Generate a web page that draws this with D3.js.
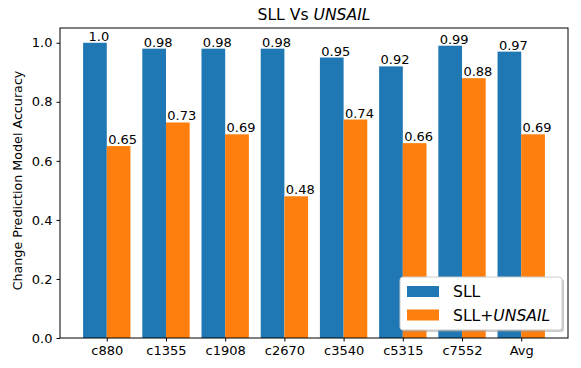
<!DOCTYPE html>
<html>
<head>
<meta charset="utf-8">
<script src="https://cdn.jsdelivr.net/npm/d3@7"></script>
<style>
  body { margin: 0; background: #fff; }
  svg { font-family: "DejaVu Sans", sans-serif; }
</style>
</head>
<body>
<div id="chart"></div>
<script>
const width = 581;
const height = 368;
const margin = ({top: 28, right: 13, bottom: 30, left: 60});

// data
const circuits = ["c880", "c1355", "c1908", "c2670", "c3540", "c5315", "c7552", "Avg"];
const sll = [1.0, 0.98, 0.98, 0.98, 0.95, 0.92, 0.99, 0.97];
const sllUnsail = [0.65, 0.73, 0.69, 0.48, 0.74, 0.66, 0.88, 0.69];
const sllLabels = ["1.0", "0.98", "0.98", "0.98", "0.95", "0.92", "0.99", "0.97"];
const unsailLabels = ["0.65", "0.73", "0.69", "0.48", "0.74", "0.66", "0.88", "0.69"];
const yTicks = [0, 0.2, 0.4, 0.6, 0.8, 1.0];

const blue = "#1f77b4";
const orange = "#ff7f0e";
const barW = 0.4;

let svg = d3.select("#chart")
    .append("svg")
    .attr("width", width)
    .attr("height", height);

let xScale = d3.scaleLinear()
    .domain([-0.79, circuits.length - 1 + 0.79])
    .range([margin.left, width - margin.right]);

let yScale = d3.scaleLinear()
    .domain([0, 1.05])
    .range([height - margin.bottom, margin.top]);

// bars
svg.selectAll(".sll")
    .data(sll)
    .enter()
    .append("rect")
    .attr("class", "sll")
    .attr("x", (d, i) => xScale(i - barW))
    .attr("y", d => yScale(d))
    .attr("width", xScale(barW) - xScale(0))
    .attr("height", d => yScale(0) - yScale(d))
    .attr("fill", blue);

svg.selectAll(".unsail")
    .data(sllUnsail)
    .enter()
    .append("rect")
    .attr("class", "unsail")
    .attr("x", (d, i) => xScale(i))
    .attr("y", d => yScale(d))
    .attr("width", xScale(barW) - xScale(0))
    .attr("height", d => yScale(0) - yScale(d))
    .attr("fill", orange);

// value labels
svg.selectAll(".sllLabel")
    .data(sll)
    .enter()
    .append("text")
    .attr("x", (d, i) => xScale(i - barW / 2) + 4)
    .attr("y", d => yScale(d) - 2)
    .attr("text-anchor", "middle")
    .attr("font-size", 13)
    .text((d, i) => sllLabels[i]);

svg.selectAll(".unsailLabel")
    .data(sllUnsail)
    .enter()
    .append("text")
    .attr("x", (d, i) => xScale(i + barW / 2) + 4)
    .attr("y", d => yScale(d) - 2)
    .attr("text-anchor", "middle")
    .attr("font-size", 13)
    .text((d, i) => unsailLabels[i]);

// axes
let xAxis = d3.axisBottom(xScale)
    .tickValues(d3.range(circuits.length))
    .tickFormat(i => circuits[i])
    .tickSize(3.5)
    .tickPadding(4);

let yAxis = d3.axisLeft(yScale)
    .tickValues(yTicks)
    .tickFormat(d3.format(".1f"))
    .tickSize(3.5)
    .tickPadding(4);

svg.append("g")
    .attr("transform", "translate(0," + (height - margin.bottom) + ")")
    .call(xAxis)
    .call(g => g.select(".domain").remove())
    .selectAll("text")
    .attr("font-size", 13)
    .attr("fill", "#000")
    .attr("font-family", "DejaVu Sans");

svg.append("g")
    .attr("transform", "translate(" + margin.left + ",0)")
    .call(yAxis)
    .call(g => g.select(".domain").remove())
    .selectAll("text")
    .attr("font-size", 13)
    .attr("fill", "#000")
    .attr("font-family", "DejaVu Sans");

// frame
svg.append("rect")
    .attr("x", margin.left)
    .attr("y", margin.top)
    .attr("width", width - margin.left - margin.right)
    .attr("height", height - margin.top - margin.bottom)
    .attr("fill", "none")
    .attr("stroke", "#000")
    .attr("stroke-width", 1);

// title
let title = svg.append("text")
    .attr("x", (margin.left + width - margin.right) / 2)
    .attr("y", 20)
    .attr("text-anchor", "middle")
    .attr("font-size", 15.6);
title.append("tspan").text("SLL Vs ");
title.append("tspan").attr("font-style", "italic").text("UNSAIL");

// y label
svg.append("text")
    .attr("transform", "translate(21.5,180.5) rotate(-90)")
    .attr("text-anchor", "middle")
    .attr("font-size", 12.7)
    .text("Change Prediction Model Accuracy");

// legend
let legend = svg.append("g").attr("transform", "translate(400,277)");
legend.append("rect")
    .attr("x", 2).attr("y", 2)
    .attr("width", 162).attr("height", 53)
    .attr("rx", 3)
    .attr("fill", "#999").attr("opacity", 0.5);
legend.append("rect")
    .attr("width", 162).attr("height", 53)
    .attr("rx", 3)
    .attr("fill", "#fff")
    .attr("stroke", "#ccc");

const legendItems = [["SLL", blue, ""], ["SLL+", orange, "UNSAIL"]];
legendItems.forEach((item, i) => {
    legend.append("rect")
        .attr("x", 7).attr("y", 9 + i * 23.5)
        .attr("width", 32).attr("height", 11)
        .attr("fill", item[1]);
    let t = legend.append("text")
        .attr("x", 53).attr("y", 20 + i * 23.5)
        .attr("font-size", 15.6);
    t.append("tspan").text(item[0]);
    if (item[2]) t.append("tspan").attr("font-style", "italic").text(item[2]);
});
</script>
</body>
</html>
